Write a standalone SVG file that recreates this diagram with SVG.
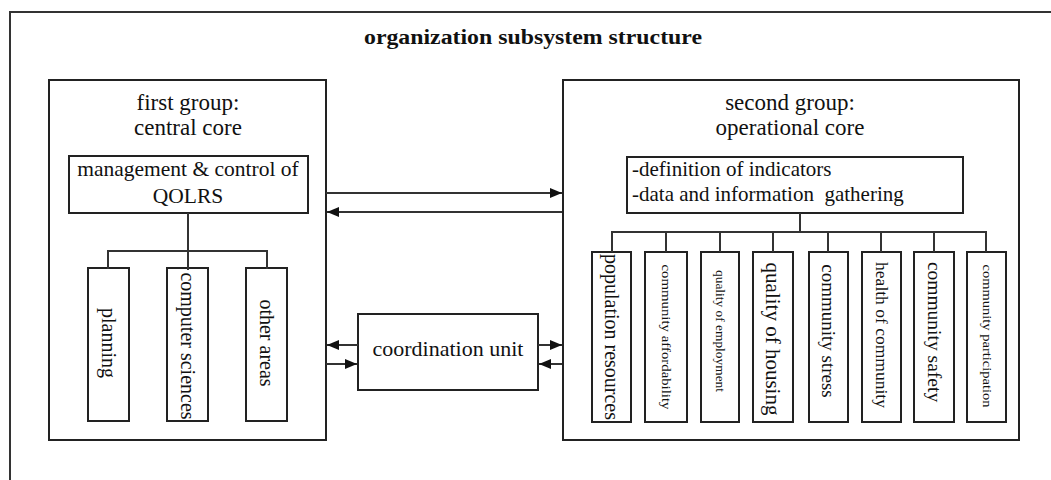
<svg xmlns="http://www.w3.org/2000/svg" width="1051" height="480" viewBox="0 0 1051 480">
<style>
  .box{fill:#fff;stroke:#222;stroke-width:2}
  .ln{fill:none;stroke:#333;stroke-width:2}
  .t{font-family:"Liberation Serif","Times New Roman",serif;fill:#111}
  .c{text-anchor:middle}
  .v{text-anchor:middle;dominant-baseline:central}
</style>
<defs>
  <marker id="ah" markerUnits="userSpaceOnUse" markerWidth="12" markerHeight="10" refX="12" refY="5" orient="auto">
    <path d="M0,0 L12,5 L0,10 Z" fill="#111"/>
  </marker>
</defs>
<rect width="1051" height="480" fill="#fff"/>
<g id="frame">
  <path class="ln" d="M10,480 L10,12 L1051,12"/>
  <text class="t c" x="533" y="44" font-size="20" font-weight="bold" textLength="338" lengthAdjust="spacingAndGlyphs">organization subsystem structure</text>
</g>
<g id="first-group">
  <rect class="box" x="49" y="80" width="277" height="360"/>
  <text class="t c" x="188" y="110" font-size="23">first group:</text>
  <text class="t c" x="188" y="135" font-size="23">central core</text>
</g>
<g id="management">
  <rect class="box" x="69" y="156" width="239" height="57"/>
  <text class="t c" x="188" y="176" font-size="21.5">management &amp; control of</text>
  <text class="t c" x="188" y="203" font-size="21.5">QOLRS</text>
</g>
<g id="planning">
  <rect class="box" x="88" y="268" width="41" height="153"/>
  <text class="t v" transform="translate(108.5,343) rotate(90)" font-size="20">planning</text>
</g>
<g id="computer-sciences">
  <rect class="box" x="167" y="268" width="41" height="153"/>
  <text class="t v" transform="translate(187.5,346) rotate(90)" font-size="20">computer sciences</text>
</g>
<g id="other-areas">
  <rect class="box" x="246" y="268" width="41" height="153"/>
  <text class="t v" transform="translate(266.5,343) rotate(90)" font-size="20">other areas</text>
</g>
<g id="second-group">
  <rect class="box" x="563" y="80" width="456" height="360"/>
  <text class="t c" x="790" y="110" font-size="23">second group:</text>
  <text class="t c" x="790" y="135" font-size="23">operational core</text>
</g>
<g id="definition">
  <rect class="box" x="627" y="157" width="336" height="56"/>
  <text class="t" x="632" y="176" font-size="21">-definition of indicators</text>
  <text class="t" x="632" y="201" font-size="21" xml:space="preserve">-data and information  gathering</text>
</g>
<g id="coordination">
  <rect class="box" x="358" y="314" width="180" height="76"/>
  <text class="t c" x="448" y="356" font-size="22">coordination unit</text>
</g>
<g id="population-resources">
  <rect class="box" x="592" y="252" width="39" height="170"/>
  <text class="t v" transform="translate(611.5,337) rotate(90)" font-size="20" textLength="166" lengthAdjust="spacingAndGlyphs">population resources</text>
</g>
<g id="community-affordability">
  <rect class="box" x="645" y="252" width="42" height="170"/>
  <text class="t v" transform="translate(666,337) rotate(90)" font-size="12" textLength="145" lengthAdjust="spacingAndGlyphs">community affordability</text>
</g>
<g id="quality-of-employment">
  <rect class="box" x="701" y="252" width="38" height="170"/>
  <text class="t v" transform="translate(720,331) rotate(90)" font-size="12" textLength="122" lengthAdjust="spacingAndGlyphs">quality of employment</text>
</g>
<g id="quality-of-housing">
  <rect class="box" x="753" y="252" width="40" height="170"/>
  <text class="t v" transform="translate(773,339) rotate(90)" font-size="21">quality of housing</text>
</g>
<g id="community-stress">
  <rect class="box" x="809" y="252" width="39" height="170"/>
  <text class="t v" transform="translate(828.5,331) rotate(90)" font-size="19">community stress</text>
</g>
<g id="health-of-community">
  <rect class="box" x="862" y="252" width="39" height="170"/>
  <text class="t v" transform="translate(881.5,335) rotate(90)" font-size="17.5">health of community</text>
</g>
<g id="community-safety">
  <rect class="box" x="914" y="252" width="40" height="170"/>
  <text class="t v" transform="translate(934,332) rotate(90)" font-size="19.5">community safety</text>
</g>
<g id="community-participation">
  <rect class="box" x="967" y="252" width="39" height="170"/>
  <text class="t v" transform="translate(986.5,336) rotate(90)" font-size="12" textLength="143" lengthAdjust="spacingAndGlyphs">community participation</text>
</g>
<g id="connectors">
  <path class="ln" d="M188,213 L188,270 M108,269 L108,251 L267,251 L267,269"/>
  <path class="ln" d="M800,213 L800,232 M612,252 L612,232 L986,232 L986,252 M666,232 L666,252 M720,232 L720,252 M773,232 L773,252 M828,232 L828,252 M881,232 L881,252 M934,232 L934,252"/>
  <line class="ln" x1="326" y1="193" x2="562" y2="193" marker-end="url(#ah)"/>
  <line class="ln" x1="562" y1="212" x2="327" y2="212" marker-end="url(#ah)"/>
  <line class="ln" x1="358" y1="345" x2="327" y2="345" marker-end="url(#ah)"/>
  <line class="ln" x1="538" y1="345" x2="562" y2="345" marker-end="url(#ah)"/>
  <line class="ln" x1="326" y1="364" x2="357" y2="364" marker-end="url(#ah)"/>
  <line class="ln" x1="562" y1="364" x2="539" y2="364" marker-end="url(#ah)"/>
</g>
</svg>
